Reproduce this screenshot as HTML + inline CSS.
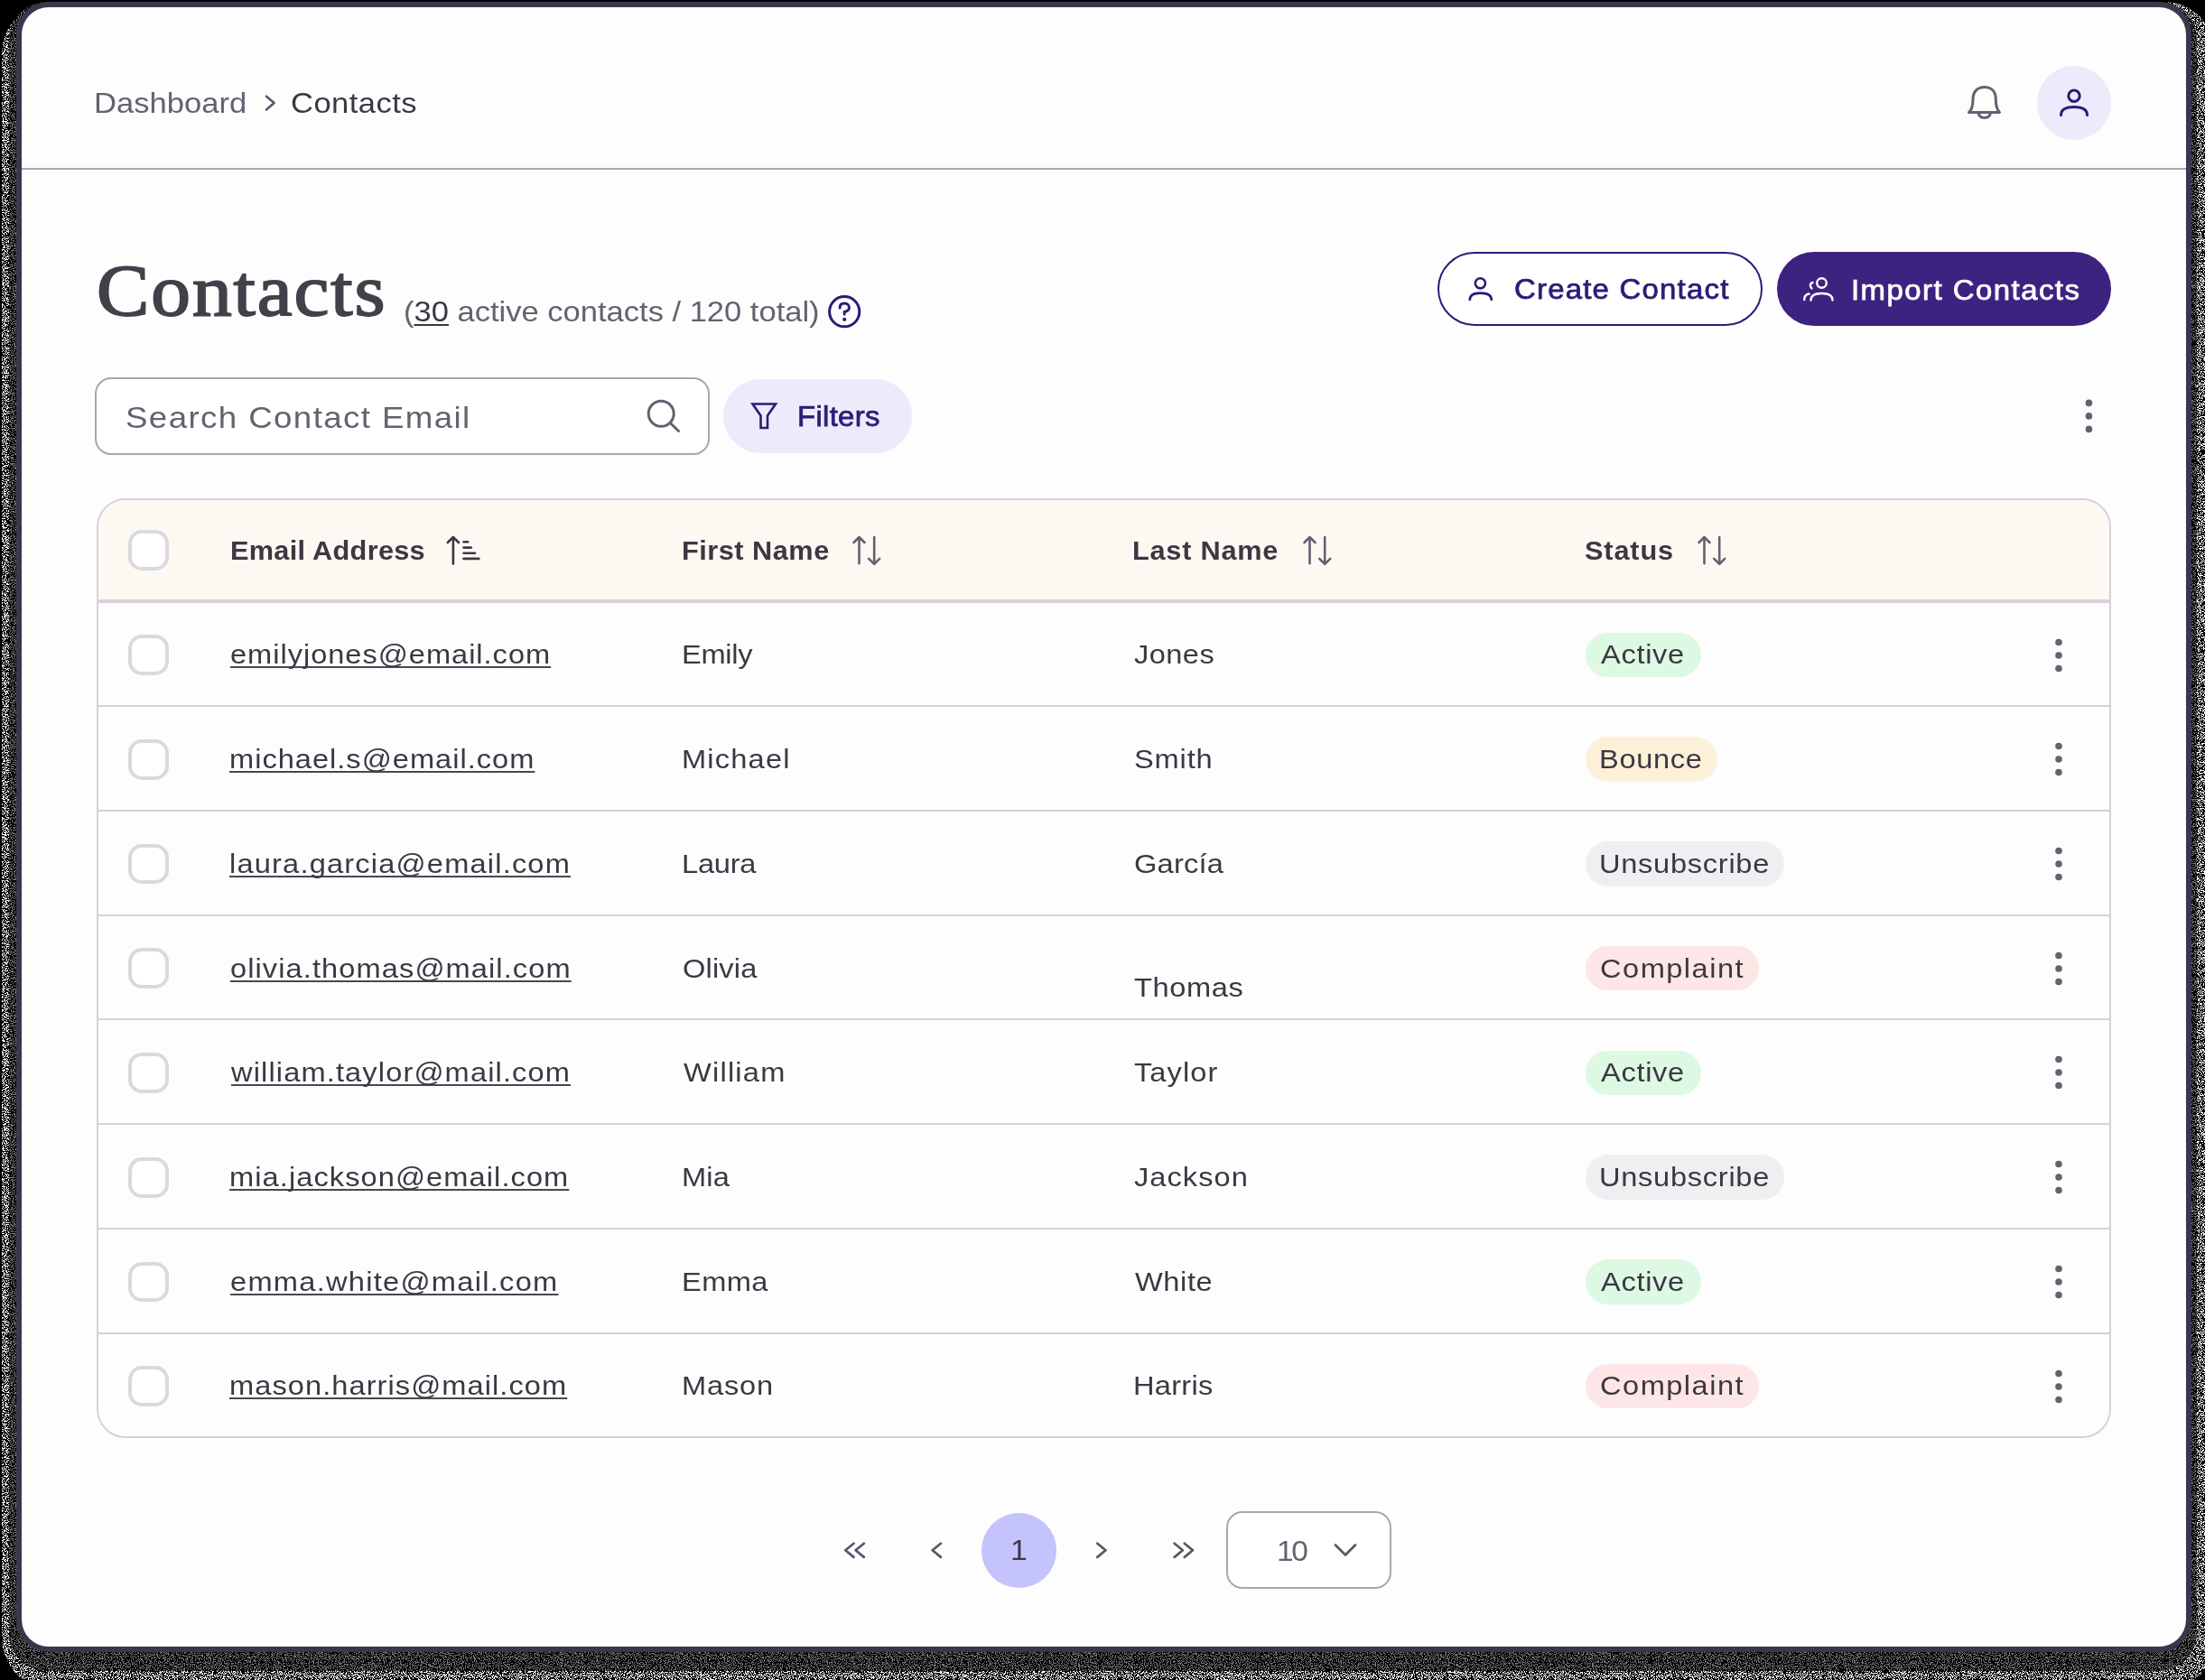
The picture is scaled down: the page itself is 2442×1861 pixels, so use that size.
<!DOCTYPE html><html><head><meta charset="utf-8"><style>
*{margin:0;padding:0;box-sizing:border-box}
html,body{width:2442px;height:1861px;overflow:hidden;background:#000}
body{position:relative;font-family:'Liberation Sans',sans-serif}
.a{position:absolute}
.t{position:absolute;white-space:nowrap}
</style></head><body>
<svg class="a" style="left:0;top:0" width="2442" height="1861" viewBox="0 0 2442 1861"><defs>
<filter id="sp1" x="0" y="0" width="2442" height="1861" filterUnits="userSpaceOnUse">
<feTurbulence type="fractalNoise" baseFrequency="0.9" numOctaves="1" seed="7" result="t"/>
<feColorMatrix in="t" type="matrix" values="0 0 0 0 1  0 0 0 0 1  0 0 0 0 1  1 0 0 0 0" result="a"/>
<feComponentTransfer in="a" result="b"><feFuncA type="discrete" tableValues="0 0 0 0 0 0 0 0 0 0 0 0 0 0 0 0 0 1 1 1 1 1 1 1 1 1 1 1 1 1 1 1"/></feComponentTransfer>
<feComposite in="b" in2="SourceGraphic" operator="in"/></filter>
<filter id="sp2" x="0" y="0" width="2442" height="1861" filterUnits="userSpaceOnUse">
<feTurbulence type="fractalNoise" baseFrequency="0.9" numOctaves="1" seed="11" result="t"/>
<feColorMatrix in="t" type="matrix" values="0 0 0 0 0.17  0 0 0 0 0.17  0 0 0 0 0.17  1 0 0 0 0" result="a"/>
<feComponentTransfer in="a" result="b"><feFuncA type="discrete" tableValues="0 0 0 0 0 0 0 0 0 0 0 0 0 0 0 0 0 1 1 1 1 1 1 1 1 1 1 1 1 1 1 1"/></feComponentTransfer>
<feComposite in="b" in2="SourceGraphic" operator="in"/></filter>
</defs>
<rect x="2" y="2" width="2452" height="1870" rx="58" fill="#fff" filter="url(#sp1)"/>
<rect x="10" y="2" width="2423" height="1849" rx="42" fill="#000"/>
<rect x="10" y="2" width="2423" height="1849" rx="42" fill="#fff" filter="url(#sp2)"/>
</svg>
<div class="a" style="left:18px;top:2px;width:2409px;height:1828px;background:#3d354c;border-radius:36px"></div>
<div class="a" style="left:24px;top:8px;width:2397px;height:1816px;background:#fdfdfe;border-radius:30px"></div>
<div class="a" style="left:24px;top:186px;width:2397px;height:2px;background:#aaa7b1"></div>
<svg class="a" style="left:280px;top:95px" width="40" height="40" viewBox="280 95 40 40"><path d="M295 106.7 L303.6 114 L295 121.4" fill="none" stroke="#5c5769" stroke-width="2.6" stroke-linecap="round" stroke-linejoin="round"/></svg>
<svg class="a" style="left:2170px;top:88px" width="56" height="52" viewBox="2170 88 56 52">
<path d="M2185 110 C2185 101 2190.5 96.5 2197.7 96.5 C2205 96.5 2210.3 101 2210.3 110 C2210.3 119 2212 122 2214.5 124.5 L2180.5 124.5 C2183.5 122 2185 119 2185 110 Z" fill="none" stroke="#66606f" stroke-width="3" stroke-linejoin="round"/>
<path d="M2191 124.8 C2191.5 128.5 2194 130.5 2197.7 130.5 C2201.4 130.5 2204 128.5 2204.4 124.8" fill="none" stroke="#66606f" stroke-width="3"/>
</svg>
<div class="a" style="left:2256px;top:73px;width:82px;height:82px;border-radius:50%;background:#ebebfc"></div>
<svg class="a" style="left:2270px;top:90px" width="56" height="48" viewBox="2270 90 56 48">
<circle cx="2297" cy="106.3" r="6.2" fill="none" stroke="#2e1a77" stroke-width="3"/>
<path d="M2282.5 127.5 C2282.5 120 2289 118.5 2297 118.5 C2305 118.5 2311.5 120 2311.5 127.5" fill="none" stroke="#2e1a77" stroke-width="3" stroke-linecap="round"/>
</svg>
<svg class="a" style="left:912px;top:322px" width="48" height="48" viewBox="912 322 48 48">
<circle cx="935.2" cy="345.2" r="16.6" fill="none" stroke="#2e1a77" stroke-width="3"/>
<path d="M930.1 341 C930.1 337.8 932.3 336.1 935.3 336.1 C938.3 336.1 940.4 338 940.4 340.8 C940.4 343.8 938 345 935.2 345.5 L935.2 348" fill="none" stroke="#2e1a77" stroke-width="3" stroke-linecap="round"/>
<circle cx="935.2" cy="353.8" r="2.1" fill="#2e1a77"/>
</svg>
<div class="a" style="left:1592px;top:279px;width:360px;height:82px;border-radius:41px;border:2px solid #2e1a77;background:#fff"></div>
<svg class="a" style="left:1620px;top:300px" width="40" height="40" viewBox="1620 300 40 40">
<circle cx="1639.4" cy="313.8" r="5.6" fill="none" stroke="#2e1a77" stroke-width="2.6"/>
<path d="M1627.8 332 C1627.8 326 1632.5 324.6 1639.4 324.6 C1646.3 324.6 1651.8 326 1651.8 332" fill="none" stroke="#2e1a77" stroke-width="2.6" stroke-linecap="round"/>
</svg>
<div class="a" style="left:1968px;top:279px;width:370px;height:82px;border-radius:41px;background:#3d2380"></div>
<svg class="a" style="left:1990px;top:300px" width="48" height="40" viewBox="1990 300 48 40">
<circle cx="2017.5" cy="313.5" r="5.3" fill="none" stroke="#fff" stroke-width="2.4"/>
<path d="M2005.5 332.5 C2005.5 327 2010 325 2017.5 325 C2025 325 2029.5 327 2029.5 332.5" fill="none" stroke="#fff" stroke-width="2.4" stroke-linecap="round"/>
<path d="M2006.5 319.5 C2004 317 2004.5 313.5 2007.5 313" fill="none" stroke="#fff" stroke-width="2.4" stroke-linecap="round"/>
<path d="M1998.2 332 C1998.2 328.5 2000 326 2003.5 325.5" fill="none" stroke="#fff" stroke-width="2.4" stroke-linecap="round"/>
</svg>
<div class="a" style="left:105px;top:418px;width:681px;height:86px;border-radius:18px;border:2px solid #a9a6b0;background:#fff"></div>
<svg class="a" style="left:710px;top:436px" width="50" height="50" viewBox="710 436 50 50">
<circle cx="732.2" cy="458.3" r="14" fill="none" stroke="#66606f" stroke-width="3"/>
<path d="M742.6 468.8 L751.5 477.5" fill="none" stroke="#66606f" stroke-width="3" stroke-linecap="round"/>
</svg>
<div class="a" style="left:801px;top:420px;width:209px;height:82px;border-radius:41px;background:#ebebfc"></div>
<svg class="a" style="left:826px;top:440px" width="40" height="42" viewBox="826 440 40 42">
<path d="M833.5 447.5 L859 447.5 L850 460.5 L850 474 L842.5 474 L842.5 460.5 Z" fill="none" stroke="#2e1a77" stroke-width="2.6" stroke-linejoin="miter"/>
</svg>
<svg class="a" style="left:2300px;top:436px" width="28" height="50" viewBox="2300 436 28 50"><circle cx="2313.4" cy="446.4" r="3.8" fill="#66606f"/><circle cx="2313.4" cy="460.9" r="3.8" fill="#66606f"/><circle cx="2313.4" cy="475.4" r="3.8" fill="#66606f"/></svg>
<div class="a" style="left:107px;top:552px;width:2231px;height:1041.3px;border:2px solid #d4d2d8;border-radius:32px;background:#fdfdfe;overflow:hidden"><div class="a" style="left:0;top:0;width:100%;height:110px;background:#fdf8f2"></div><div class="a" style="left:0;top:110px;width:100%;height:3.6px;background:#d6d4da"></div></div>
<div class="a" style="left:109px;top:781.3px;width:2227px;height:2px;background:#d4d2d8"></div>
<div class="a" style="left:109px;top:897.02px;width:2227px;height:2px;background:#d4d2d8"></div>
<div class="a" style="left:109px;top:1012.74px;width:2227px;height:2px;background:#d4d2d8"></div>
<div class="a" style="left:109px;top:1128.46px;width:2227px;height:2px;background:#d4d2d8"></div>
<div class="a" style="left:109px;top:1244.1799999999998px;width:2227px;height:2px;background:#d4d2d8"></div>
<div class="a" style="left:109px;top:1359.9px;width:2227px;height:2px;background:#d4d2d8"></div>
<div class="a" style="left:109px;top:1475.62px;width:2227px;height:2px;background:#d4d2d8"></div>
<div class="a" style="left:142.2px;top:587.2px;width:44.8px;height:44.8px;border-radius:15px;border:4px solid #dbd9df;background:#fff"></div>
<svg class="a" style="left:490px;top:588px" width="46" height="42" viewBox="490 588 46 42">
<path d="M501.9 595 L501.9 624.5 M495.8 601 L501.9 595 L508 601" fill="none" stroke="#3b3842" stroke-width="2.6" stroke-linecap="round" stroke-linejoin="round"/>
<path d="M513.5 600.3 L518.2 600.3 M513.5 606.6 L521.8 606.6 M513.5 612.7 L526 612.7 M513.5 618.9 L530.3 618.9" fill="none" stroke="#3b3842" stroke-width="2.6" stroke-linecap="round"/>
</svg>
<svg class="a" style="left:939.2px;top:588px" width="44" height="42" viewBox="939.2 588 44 42">
<path d="M951.7 595 L951.7 624.2 M945.7 601 L951.7 595 L957.7 601" fill="none" stroke="#66606f" stroke-width="2.6" stroke-linecap="round" stroke-linejoin="round"/>
<path d="M968.4000000000001 595 L968.4000000000001 624.8 M962.4000000000001 618.8 L968.4000000000001 624.8 L974.4000000000001 618.8" fill="none" stroke="#66606f" stroke-width="2.6" stroke-linecap="round" stroke-linejoin="round"/>
</svg>
<svg class="a" style="left:1437.5px;top:588px" width="44" height="42" viewBox="1437.5 588 44 42">
<path d="M1450.0 595 L1450.0 624.2 M1444.0 601 L1450.0 595 L1456.0 601" fill="none" stroke="#66606f" stroke-width="2.6" stroke-linecap="round" stroke-linejoin="round"/>
<path d="M1466.7 595 L1466.7 624.8 M1460.7 618.8 L1466.7 624.8 L1472.7 618.8" fill="none" stroke="#66606f" stroke-width="2.6" stroke-linecap="round" stroke-linejoin="round"/>
</svg>
<svg class="a" style="left:1874.5px;top:588px" width="44" height="42" viewBox="1874.5 588 44 42">
<path d="M1887.0 595 L1887.0 624.2 M1881.0 601 L1887.0 595 L1893.0 601" fill="none" stroke="#66606f" stroke-width="2.6" stroke-linecap="round" stroke-linejoin="round"/>
<path d="M1903.7 595 L1903.7 624.8 M1897.7 618.8 L1903.7 624.8 L1909.7 618.8" fill="none" stroke="#66606f" stroke-width="2.6" stroke-linecap="round" stroke-linejoin="round"/>
</svg>
<div class="a" style="left:142px;top:703.2px;width:44.8px;height:44.8px;border-radius:15px;border:4px solid #dbd9df;background:#fff"></div>
<div class="a" style="left:1755.6px;top:700.7px;width:128.1px;height:49.6px;border-radius:25px;background:#ddf8e3"></div>
<svg class="a" style="left:2266px;top:699.50px" width="28" height="52" viewBox="2266 699.50 28 52"><circle cx="2280" cy="711.00" r="3.8" fill="#66606f"/><circle cx="2280" cy="725.50" r="3.8" fill="#66606f"/><circle cx="2280" cy="740.00" r="3.8" fill="#66606f"/></svg>
<div class="a" style="left:142px;top:818.9200000000001px;width:44.8px;height:44.8px;border-radius:15px;border:4px solid #dbd9df;background:#fff"></div>
<div class="a" style="left:1755.6px;top:816.4200000000001px;width:146.4px;height:49.6px;border-radius:25px;background:#fdf0d8"></div>
<svg class="a" style="left:2266px;top:815.22px" width="28" height="52" viewBox="2266 815.22 28 52"><circle cx="2280" cy="826.72" r="3.8" fill="#66606f"/><circle cx="2280" cy="841.22" r="3.8" fill="#66606f"/><circle cx="2280" cy="855.72" r="3.8" fill="#66606f"/></svg>
<div class="a" style="left:142px;top:934.6400000000001px;width:44.8px;height:44.8px;border-radius:15px;border:4px solid #dbd9df;background:#fff"></div>
<div class="a" style="left:1755.6px;top:932.1400000000001px;width:220.9px;height:49.6px;border-radius:25px;background:#efeff1"></div>
<svg class="a" style="left:2266px;top:930.94px" width="28" height="52" viewBox="2266 930.94 28 52"><circle cx="2280" cy="942.44" r="3.8" fill="#66606f"/><circle cx="2280" cy="956.94" r="3.8" fill="#66606f"/><circle cx="2280" cy="971.44" r="3.8" fill="#66606f"/></svg>
<div class="a" style="left:142px;top:1050.36px;width:44.8px;height:44.8px;border-radius:15px;border:4px solid #dbd9df;background:#fff"></div>
<div class="a" style="left:1755.6px;top:1047.86px;width:192px;height:49.6px;border-radius:25px;background:#fde6e5"></div>
<svg class="a" style="left:2266px;top:1046.66px" width="28" height="52" viewBox="2266 1046.66 28 52"><circle cx="2280" cy="1058.16" r="3.8" fill="#66606f"/><circle cx="2280" cy="1072.66" r="3.8" fill="#66606f"/><circle cx="2280" cy="1087.16" r="3.8" fill="#66606f"/></svg>
<div class="a" style="left:142px;top:1166.0800000000002px;width:44.8px;height:44.8px;border-radius:15px;border:4px solid #dbd9df;background:#fff"></div>
<div class="a" style="left:1755.6px;top:1163.5800000000002px;width:128.1px;height:49.6px;border-radius:25px;background:#ddf8e3"></div>
<svg class="a" style="left:2266px;top:1162.38px" width="28" height="52" viewBox="2266 1162.38 28 52"><circle cx="2280" cy="1173.88" r="3.8" fill="#66606f"/><circle cx="2280" cy="1188.38" r="3.8" fill="#66606f"/><circle cx="2280" cy="1202.88" r="3.8" fill="#66606f"/></svg>
<div class="a" style="left:142px;top:1281.8px;width:44.8px;height:44.8px;border-radius:15px;border:4px solid #dbd9df;background:#fff"></div>
<div class="a" style="left:1755.6px;top:1279.3px;width:220.9px;height:49.6px;border-radius:25px;background:#efeff1"></div>
<svg class="a" style="left:2266px;top:1278.10px" width="28" height="52" viewBox="2266 1278.10 28 52"><circle cx="2280" cy="1289.60" r="3.8" fill="#66606f"/><circle cx="2280" cy="1304.10" r="3.8" fill="#66606f"/><circle cx="2280" cy="1318.60" r="3.8" fill="#66606f"/></svg>
<div class="a" style="left:142px;top:1397.52px;width:44.8px;height:44.8px;border-radius:15px;border:4px solid #dbd9df;background:#fff"></div>
<div class="a" style="left:1755.6px;top:1395.02px;width:128.1px;height:49.6px;border-radius:25px;background:#ddf8e3"></div>
<svg class="a" style="left:2266px;top:1393.82px" width="28" height="52" viewBox="2266 1393.82 28 52"><circle cx="2280" cy="1405.32" r="3.8" fill="#66606f"/><circle cx="2280" cy="1419.82" r="3.8" fill="#66606f"/><circle cx="2280" cy="1434.32" r="3.8" fill="#66606f"/></svg>
<div class="a" style="left:142px;top:1513.24px;width:44.8px;height:44.8px;border-radius:15px;border:4px solid #dbd9df;background:#fff"></div>
<div class="a" style="left:1755.6px;top:1510.74px;width:192px;height:49.6px;border-radius:25px;background:#fde6e5"></div>
<svg class="a" style="left:2266px;top:1509.54px" width="28" height="52" viewBox="2266 1509.54 28 52"><circle cx="2280" cy="1521.04" r="3.8" fill="#66606f"/><circle cx="2280" cy="1535.54" r="3.8" fill="#66606f"/><circle cx="2280" cy="1550.04" r="3.8" fill="#66606f"/></svg>
<svg class="a" style="left:920px;top:1690px" width="420" height="56" viewBox="920 1690 420 56"><path d="M945.5 1709.7 L936.3 1717.3 L945.5 1724.8999999999999 M956.8000000000001 1709.7 L947.6 1717.3 L956.8000000000001 1724.8999999999999 M1041.9 1709.7 L1032.7 1717.3 L1041.9 1724.8999999999999 M1215.3 1709.7 L1224.5 1717.3 L1215.3 1724.8999999999999 M1300.7 1709.7 L1309.9 1717.3 L1300.7 1724.8999999999999 M1311.8 1709.7 L1321 1717.3 L1311.8 1724.8999999999999" fill="none" stroke="#5a5568" stroke-width="2.7" stroke-linecap="round" stroke-linejoin="round"/></svg>
<div class="a" style="left:1087px;top:1676px;width:82.6px;height:82.6px;border-radius:50%;background:#c5c3fb"></div>
<div class="a" style="left:1358px;top:1674.4px;width:183px;height:85.4px;border-radius:18px;border:2px solid #a9a6b0;background:#fff"></div>
<svg class="a" style="left:1470px;top:1700px" width="40" height="34" viewBox="1470 1700 40 34"><path d="M1479 1711.5 L1490 1722.5 L1501 1711.5" fill="none" stroke="#5a5568" stroke-width="2.7" stroke-linecap="round" stroke-linejoin="round"/></svg>
<div class="t" style="left:104.36px;top:97.71px;font-family:'Liberation Sans', sans-serif;font-size:32px;line-height:32px;font-weight:400;color:#66606f;letter-spacing:0.028px;transform:scaleX(1.08);transform-origin:0 0">Dashboard</div>
<div class="t" style="left:321.84px;top:97.71px;font-family:'Liberation Sans', sans-serif;font-size:32px;line-height:32px;font-weight:400;color:#3b3842;letter-spacing:0.418px;transform:scaleX(1.08);transform-origin:0 0">Contacts</div>
<div class="t" style="left:107.40px;top:282.92px;font-family:'Liberation Serif', serif;font-size:79.5px;line-height:79.5px;font-weight:400;color:#434049;letter-spacing:1.766px;-webkit-text-stroke:1.8px #434049;transform:scaleX(1.1);transform-origin:0 0">Contacts</div>
<div class="t" style="left:447.24px;top:328.71px;font-family:'Liberation Sans', sans-serif;font-size:32px;line-height:32px;font-weight:400;color:#66606f;letter-spacing:-0.013px;transform:scaleX(1.08);transform-origin:0 0">(<u style="color:#3b3842;text-decoration-thickness:2px;text-underline-offset:3px;text-decoration-skip-ink:none">30</u> active contacts / 120 total)</div>
<div class="t" style="left:1676.72px;top:305.48px;font-family:'Liberation Sans', sans-serif;font-size:30.5px;line-height:30.5px;font-weight:400;color:#2e1a77;letter-spacing:1.125px;-webkit-text-stroke:0.75px #2e1a77;transform:scaleX(1.08);transform-origin:0 0">Create Contact</div>
<div class="t" style="left:2050.34px;top:305.58px;font-family:'Liberation Sans', sans-serif;font-size:30.5px;line-height:30.5px;font-weight:400;color:#ffffff;letter-spacing:1.353px;-webkit-text-stroke:0.75px #ffffff;transform:scaleX(1.08);transform-origin:0 0">Import Contacts</div>
<div class="t" style="left:138.74px;top:445.12px;font-family:'Liberation Sans', sans-serif;font-size:34px;line-height:34px;font-weight:400;color:#66606f;letter-spacing:1.272px;transform:scaleX(1.08);transform-origin:0 0">Search Contact Email</div>
<div class="t" style="left:882.84px;top:445.98px;font-family:'Liberation Sans', sans-serif;font-size:30.5px;line-height:30.5px;font-weight:400;color:#2e1a77;letter-spacing:0.281px;-webkit-text-stroke:0.75px #2e1a77;transform:scaleX(1.08);transform-origin:0 0">Filters</div>
<div class="t" style="left:255.04px;top:594.77px;font-family:'Liberation Sans', sans-serif;font-size:29.8px;line-height:29.8px;font-weight:700;color:#3b3842;letter-spacing:0.292px;transform:scaleX(1.03);transform-origin:0 0">Email Address</div>
<div class="t" style="left:755.04px;top:594.77px;font-family:'Liberation Sans', sans-serif;font-size:29.8px;line-height:29.8px;font-weight:700;color:#3b3842;letter-spacing:0.493px;transform:scaleX(1.03);transform-origin:0 0">First Name</div>
<div class="t" style="left:1253.94px;top:594.77px;font-family:'Liberation Sans', sans-serif;font-size:29.8px;line-height:29.8px;font-weight:700;color:#3b3842;letter-spacing:0.748px;transform:scaleX(1.03);transform-origin:0 0">Last Name</div>
<div class="t" style="left:1754.97px;top:594.77px;font-family:'Liberation Sans', sans-serif;font-size:29.8px;line-height:29.8px;font-weight:700;color:#3b3842;letter-spacing:0.841px;transform:scaleX(1.03);transform-origin:0 0">Status</div>
<div class="t" style="left:254.92px;top:710.44px;font-family:'Liberation Sans', sans-serif;font-size:30.2px;line-height:30.2px;font-weight:400;color:#3b3842;letter-spacing:0.900px;transform:scaleX(1.08);transform-origin:0 0"><u style="text-decoration-thickness:1.5px;text-underline-offset:2.5px;text-decoration-skip-ink:none;text-decoration-color:#4a4750">emilyjones@email.com</u></div>
<div class="t" style="left:754.64px;top:710.44px;font-family:'Liberation Sans', sans-serif;font-size:30.2px;line-height:30.2px;font-weight:400;color:#3b3842;letter-spacing:-0.245px;transform:scaleX(1.08);transform-origin:0 0">Emily</div>
<div class="t" style="left:1255.62px;top:710.44px;font-family:'Liberation Sans', sans-serif;font-size:30.2px;line-height:30.2px;font-weight:400;color:#3b3842;letter-spacing:0.389px;transform:scaleX(1.08);transform-origin:0 0">Jones</div>
<div class="t" style="left:1773.10px;top:710.44px;font-family:'Liberation Sans', sans-serif;font-size:30.2px;line-height:30.2px;font-weight:400;color:#3b3842;letter-spacing:0.633px;transform:scaleX(1.08);transform-origin:0 0">Active</div>
<div class="t" style="left:253.84px;top:826.16px;font-family:'Liberation Sans', sans-serif;font-size:30.2px;line-height:30.2px;font-weight:400;color:#3b3842;letter-spacing:0.923px;transform:scaleX(1.08);transform-origin:0 0"><u style="text-decoration-thickness:1.5px;text-underline-offset:2.5px;text-decoration-skip-ink:none;text-decoration-color:#4a4750">michael.s@email.com</u></div>
<div class="t" style="left:754.64px;top:826.16px;font-family:'Liberation Sans', sans-serif;font-size:30.2px;line-height:30.2px;font-weight:400;color:#3b3842;letter-spacing:1.096px;transform:scaleX(1.08);transform-origin:0 0">Michael</div>
<div class="t" style="left:1255.62px;top:826.16px;font-family:'Liberation Sans', sans-serif;font-size:30.2px;line-height:30.2px;font-weight:400;color:#3b3842;letter-spacing:0.787px;transform:scaleX(1.08);transform-origin:0 0">Smith</div>
<div class="t" style="left:1770.94px;top:826.16px;font-family:'Liberation Sans', sans-serif;font-size:30.2px;line-height:30.2px;font-weight:400;color:#3b3842;letter-spacing:0.626px;transform:scaleX(1.08);transform-origin:0 0">Bounce</div>
<div class="t" style="left:253.84px;top:941.88px;font-family:'Liberation Sans', sans-serif;font-size:30.2px;line-height:30.2px;font-weight:400;color:#3b3842;letter-spacing:1.095px;transform:scaleX(1.08);transform-origin:0 0"><u style="text-decoration-thickness:1.5px;text-underline-offset:2.5px;text-decoration-skip-ink:none;text-decoration-color:#4a4750">laura.garcia@email.com</u></div>
<div class="t" style="left:754.64px;top:941.88px;font-family:'Liberation Sans', sans-serif;font-size:30.2px;line-height:30.2px;font-weight:400;color:#3b3842;letter-spacing:-0.204px;transform:scaleX(1.08);transform-origin:0 0">Laura</div>
<div class="t" style="left:1255.62px;top:941.88px;font-family:'Liberation Sans', sans-serif;font-size:30.2px;line-height:30.2px;font-weight:400;color:#3b3842;letter-spacing:0.204px;transform:scaleX(1.08);transform-origin:0 0">García</div>
<div class="t" style="left:1770.94px;top:941.88px;font-family:'Liberation Sans', sans-serif;font-size:30.2px;line-height:30.2px;font-weight:400;color:#3b3842;letter-spacing:0.657px;transform:scaleX(1.08);transform-origin:0 0">Unsubscribe</div>
<div class="t" style="left:254.92px;top:1057.60px;font-family:'Liberation Sans', sans-serif;font-size:30.2px;line-height:30.2px;font-weight:400;color:#3b3842;letter-spacing:1.005px;transform:scaleX(1.08);transform-origin:0 0"><u style="text-decoration-thickness:1.5px;text-underline-offset:2.5px;text-decoration-skip-ink:none;text-decoration-color:#4a4750">olivia.thomas@mail.com</u></div>
<div class="t" style="left:755.72px;top:1057.60px;font-family:'Liberation Sans', sans-serif;font-size:30.2px;line-height:30.2px;font-weight:400;color:#3b3842;letter-spacing:0.148px;transform:scaleX(1.08);transform-origin:0 0">Olivia</div>
<div class="t" style="left:1255.62px;top:1078.94px;font-family:'Liberation Sans', sans-serif;font-size:30.2px;line-height:30.2px;font-weight:400;color:#3b3842;letter-spacing:0.581px;transform:scaleX(1.08);transform-origin:0 0">Thomas</div>
<div class="t" style="left:1772.02px;top:1057.60px;font-family:'Liberation Sans', sans-serif;font-size:30.2px;line-height:30.2px;font-weight:400;color:#3b3842;letter-spacing:1.366px;transform:scaleX(1.08);transform-origin:0 0">Complaint</div>
<div class="t" style="left:256.00px;top:1173.32px;font-family:'Liberation Sans', sans-serif;font-size:30.2px;line-height:30.2px;font-weight:400;color:#3b3842;letter-spacing:1.045px;transform:scaleX(1.08);transform-origin:0 0"><u style="text-decoration-thickness:1.5px;text-underline-offset:2.5px;text-decoration-skip-ink:none;text-decoration-color:#4a4750">william.taylor@mail.com</u></div>
<div class="t" style="left:756.80px;top:1173.32px;font-family:'Liberation Sans', sans-serif;font-size:30.2px;line-height:30.2px;font-weight:400;color:#3b3842;letter-spacing:1.127px;transform:scaleX(1.08);transform-origin:0 0">William</div>
<div class="t" style="left:1255.62px;top:1173.32px;font-family:'Liberation Sans', sans-serif;font-size:30.2px;line-height:30.2px;font-weight:400;color:#3b3842;letter-spacing:0.978px;transform:scaleX(1.08);transform-origin:0 0">Taylor</div>
<div class="t" style="left:1773.10px;top:1173.32px;font-family:'Liberation Sans', sans-serif;font-size:30.2px;line-height:30.2px;font-weight:400;color:#3b3842;letter-spacing:0.633px;transform:scaleX(1.08);transform-origin:0 0">Active</div>
<div class="t" style="left:253.84px;top:1289.04px;font-family:'Liberation Sans', sans-serif;font-size:30.2px;line-height:30.2px;font-weight:400;color:#3b3842;letter-spacing:0.994px;transform:scaleX(1.08);transform-origin:0 0"><u style="text-decoration-thickness:1.5px;text-underline-offset:2.5px;text-decoration-skip-ink:none;text-decoration-color:#4a4750">mia.jackson@email.com</u></div>
<div class="t" style="left:754.64px;top:1289.04px;font-family:'Liberation Sans', sans-serif;font-size:30.2px;line-height:30.2px;font-weight:400;color:#3b3842;letter-spacing:0.157px;transform:scaleX(1.08);transform-origin:0 0">Mia</div>
<div class="t" style="left:1255.62px;top:1289.04px;font-family:'Liberation Sans', sans-serif;font-size:30.2px;line-height:30.2px;font-weight:400;color:#3b3842;letter-spacing:0.951px;transform:scaleX(1.08);transform-origin:0 0">Jackson</div>
<div class="t" style="left:1770.94px;top:1289.04px;font-family:'Liberation Sans', sans-serif;font-size:30.2px;line-height:30.2px;font-weight:400;color:#3b3842;letter-spacing:0.657px;transform:scaleX(1.08);transform-origin:0 0">Unsubscribe</div>
<div class="t" style="left:254.92px;top:1404.76px;font-family:'Liberation Sans', sans-serif;font-size:30.2px;line-height:30.2px;font-weight:400;color:#3b3842;letter-spacing:1.179px;transform:scaleX(1.08);transform-origin:0 0"><u style="text-decoration-thickness:1.5px;text-underline-offset:2.5px;text-decoration-skip-ink:none;text-decoration-color:#4a4750">emma.white@mail.com</u></div>
<div class="t" style="left:754.64px;top:1404.76px;font-family:'Liberation Sans', sans-serif;font-size:30.2px;line-height:30.2px;font-weight:400;color:#3b3842;letter-spacing:0.377px;transform:scaleX(1.08);transform-origin:0 0">Emma</div>
<div class="t" style="left:1256.70px;top:1404.76px;font-family:'Liberation Sans', sans-serif;font-size:30.2px;line-height:30.2px;font-weight:400;color:#3b3842;letter-spacing:0.537px;transform:scaleX(1.08);transform-origin:0 0">White</div>
<div class="t" style="left:1773.10px;top:1404.76px;font-family:'Liberation Sans', sans-serif;font-size:30.2px;line-height:30.2px;font-weight:400;color:#3b3842;letter-spacing:0.633px;transform:scaleX(1.08);transform-origin:0 0">Active</div>
<div class="t" style="left:253.84px;top:1520.48px;font-family:'Liberation Sans', sans-serif;font-size:30.2px;line-height:30.2px;font-weight:400;color:#3b3842;letter-spacing:0.983px;transform:scaleX(1.08);transform-origin:0 0"><u style="text-decoration-thickness:1.5px;text-underline-offset:2.5px;text-decoration-skip-ink:none;text-decoration-color:#4a4750">mason.harris@mail.com</u></div>
<div class="t" style="left:754.64px;top:1520.48px;font-family:'Liberation Sans', sans-serif;font-size:30.2px;line-height:30.2px;font-weight:400;color:#3b3842;letter-spacing:0.750px;transform:scaleX(1.08);transform-origin:0 0">Mason</div>
<div class="t" style="left:1254.54px;top:1520.48px;font-family:'Liberation Sans', sans-serif;font-size:30.2px;line-height:30.2px;font-weight:400;color:#3b3842;letter-spacing:0.233px;transform:scaleX(1.08);transform-origin:0 0">Harris</div>
<div class="t" style="left:1772.02px;top:1520.48px;font-family:'Liberation Sans', sans-serif;font-size:30.2px;line-height:30.2px;font-weight:400;color:#3b3842;letter-spacing:1.366px;transform:scaleX(1.08);transform-origin:0 0">Complaint</div>
<div class="t" style="left:1119.34px;top:1701.86px;font-family:'Liberation Sans', sans-serif;font-size:31px;line-height:31px;font-weight:400;color:#3b3842;letter-spacing:0.000px;transform:scaleX(1.08);transform-origin:0 0">1</div>
<div class="t" style="left:1414.14px;top:1703.36px;font-family:'Liberation Sans', sans-serif;font-size:31px;line-height:31px;font-weight:400;color:#66606f;letter-spacing:-2.204px;transform:scaleX(1.08);transform-origin:0 0">10</div>
</body></html>
